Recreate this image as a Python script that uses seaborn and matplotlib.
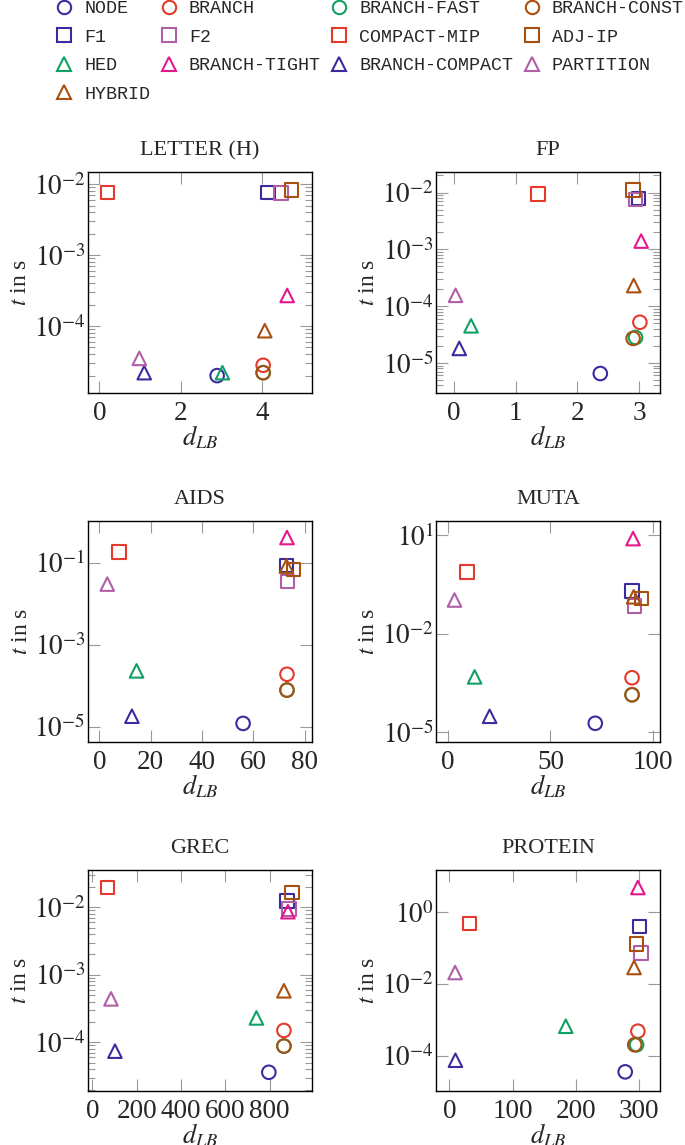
import numpy as np
import pandas as pd
import matplotlib
matplotlib.use('Agg')
import matplotlib.pyplot as plt
from matplotlib.lines import Line2D
from matplotlib.ticker import FixedLocator, LogLocator, FuncFormatter, NullLocator
import seaborn as sns

sns.set_style('ticks')
plt.rcParams['font.family'] = 'serif'
plt.rcParams['font.serif'] = ['Liberation Serif', 'DejaVu Serif']
plt.rcParams['mathtext.fontset'] = 'stix'

# methods, in drawing order
methods = ['NODE', 'BRANCH', 'BRANCH-FAST', 'BRANCH-CONST',
           'F1', 'F2', 'COMPACT-MIP', 'ADJ-IP',
           'HED', 'BRANCH-TIGHT', 'BRANCH-COMPACT', 'PARTITION',
           'HYBRID']
blue, red, green, brown = '#3b2c9e', '#e6392b', '#0fa062', '#a8500f'
mauve, pink = '#b05fa6', '#e5178c'
colors = [blue, red, green, brown,
          blue, mauve, red, brown,
          green, pink, blue, mauve,
          brown]
markers = ['o'] * 4 + ['s'] * 4 + ['^'] * 5

# d_LB and runtime (s) per dataset, same order as methods
letter_x = [2.89, 4.02, 4.02, 4.02, 4.14, 4.46, 0.20, 4.72, 3.02, 4.61, 1.10, 0.98, 4.06]
letter_t = [2.0e-5, 2.8e-5, 2.2e-5, 2.2e-5, 7.7e-3, 7.5e-3, 7.6e-3, 8.3e-3, 2.2e-5, 2.7e-4, 2.2e-5, 3.5e-5, 8.6e-5]

fp_x = [2.37, 3.01, 2.94, 2.90, 2.99, 2.94, 1.36, 2.90, 0.28, 3.03, 0.09, 0.03, 2.91]
fp_t = [6.5e-6, 5.2e-5, 2.8e-5, 2.7e-5, 7.8e-3, 7.5e-3, 9.4e-3, 1.11e-2, 4.5e-5, 1.4e-3, 1.8e-5, 1.55e-4, 2.3e-4]

aids_x = [56.0, 73.1, 73.1, 73.1, 72.9, 73.3, 7.7, 75.7, 14.5, 73.1, 12.7, 3.1, 72.9]
aids_t = [1.2e-5, 1.9e-4, 7.8e-5, 7.8e-5, 8.5e-2, 3.5e-2, 0.18, 6.9e-2, 2.3e-4, 0.41, 1.8e-5, 3.0e-2, 8.2e-2]

muta_x = [71.8, 89.7, 89.7, 89.7, 89.7, 91.0, 9.3, 94.3, 13.1, 90.2, 20.4, 3.3, 90.5]
muta_t = [1.9e-5, 4.6e-4, 1.4e-4, 1.4e-4, 0.20, 0.071, 0.77, 0.12, 4.9e-4, 7.9, 3.1e-5, 0.107, 0.134]

grec_x = [796, 864, 864, 864, 878, 887, 67.5, 900, 740, 882, 102, 84, 864]
grec_t = [3.6e-5, 1.5e-4, 8.8e-5, 8.8e-5, 1.25e-2, 9.5e-3, 1.95e-2, 1.65e-2, 2.3e-4, 8.6e-3, 7.4e-5, 4.4e-4, 5.8e-4]

protein_x = [278, 298, 296, 293, 300.5, 302.7, 31.7, 296, 184, 298, 9.5, 9.0, 292]
protein_t = [3.5e-5, 4.8e-4, 2.0e-4, 2.0e-4, 0.41, 0.074, 0.49, 0.13, 6.6e-4, 5.0, 7.4e-5, 0.021, 0.029]

titles = ['LETTER (H)', 'FP', 'AIDS', 'MUTA', 'GREC', 'PROTEIN']
xs = [letter_x, fp_x, aids_x, muta_x, grec_x, protein_x]
ts = [letter_t, fp_t, aids_t, muta_t, grec_t, protein_t]

# axis setup per panel
xlims = [(-0.28, 5.21), (-0.28, 3.335), (-4.4, 82.7), (-5.5, 103.3), (-19.5, 989), (-20.6, 333)]
ylims = [(-4.944, -1.827), (-5.53, -1.637), (-5.373, 0.017), (-5.29, 1.434), (-4.72, -1.447), (-4.99, 1.19)]
xticks = [[0, 2, 4], [0, 1, 2, 3], [0, 20, 40, 60, 80], [0, 50, 100],
          [0, 200, 400, 600, 800], [0, 100, 200, 300]]
yexps = [None, None, [-1, -3, -5], [1, -2, -5], None, [0, -2, -4]]

fig, axes = plt.subplots(3, 2, figsize=(6.85, 11.45), dpi=100)
fig.subplots_adjust(left=0.1285, right=0.9635, top=0.8498, bottom=0.0472,
                    wspace=0.558, hspace=0.579)

fmt = FuncFormatter(lambda v, p: r'$10^{%d}$' % int(round(np.log10(v))))

for i, ax in enumerate(axes.flat):
    df = pd.DataFrame({'method': methods, 'dlb': xs[i], 't': ts[i]})
    for m, c, mk in zip(methods, colors, markers):
        sns.scatterplot(data=df[df['method'] == m], x='dlb', y='t', marker=mk,
                        color=c, facecolor='none', edgecolor=c, s=95,
                        linewidth=1.5, ax=ax, legend=False, zorder=3)
    ax.set_yscale('log')
    ax.set_xlim(*xlims[i])
    ax.set_ylim(10 ** ylims[i][0], 10 ** ylims[i][1])
    ax.set_xticks(xticks[i])
    if yexps[i] is None:
        ax.yaxis.set_major_locator(LogLocator(base=10))
        ax.yaxis.set_minor_locator(LogLocator(base=10, subs=np.arange(2, 10)))
    else:
        ax.yaxis.set_major_locator(FixedLocator([10.0 ** e for e in yexps[i]]))
        ax.yaxis.set_minor_locator(NullLocator())
    ax.yaxis.set_major_formatter(fmt)
    ax.tick_params(which='both', direction='in', top=True, right=True,
                   color='#999999', width=0.8, labelsize=19.5)
    ax.tick_params(which='major', length=8.5)
    ax.tick_params(which='minor', length=5)
    ax.tick_params(axis='x', pad=6)
    ax.tick_params(axis='y', pad=2)
    for sp in ax.spines.values():
        sp.set_color('black')
        sp.set_linewidth(1.0)
    ax.set_title(titles[i], fontsize=16, pad=12)
    ax.set_xlabel(r'$d_{LB}$', fontsize=19, labelpad=-2)
    ax.set_ylabel(r'$t$ in s', fontsize=17, labelpad=2)

# legend, laid out row by row like the original
handles = [Line2D([], [], marker=mk, color=c, markerfacecolor='none',
                  linestyle='none', markersize=9.6, markeredgewidth=1.5)
           for c, mk in zip(colors, markers)]
order = [r * 4 + c for c in range(4) for r in range(4) if r * 4 + c < len(methods)]
fig.legend([handles[k] for k in order], [methods[k] for k in order],
           ncol=4, loc='upper left', bbox_to_anchor=(55 / 685, 1.0),
           frameon=False, borderpad=0, borderaxespad=0, handlelength=1.0,
           handletextpad=0.6, columnspacing=0.5, labelspacing=0.63,
           prop={'family': 'Liberation Mono', 'size': 13.2})

fig.savefig('out.png', dpi=100)
